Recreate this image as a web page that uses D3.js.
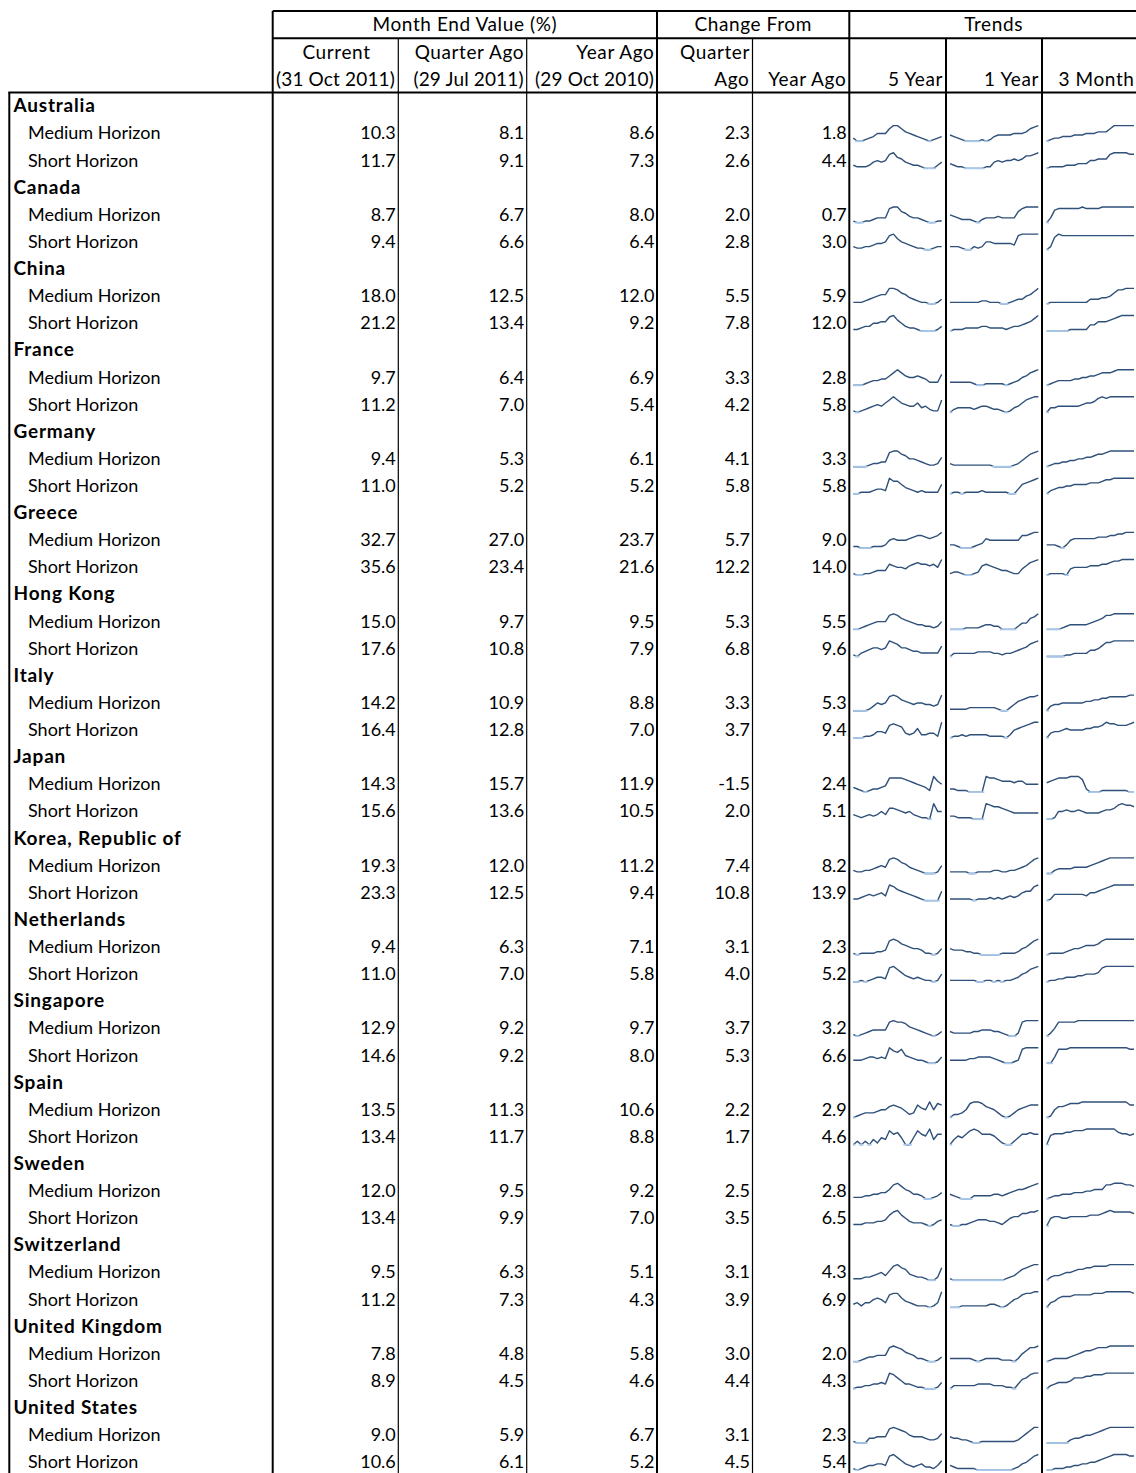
<!DOCTYPE html>
<html><head><meta charset="utf-8">
<script src="https://cdn.jsdelivr.net/npm/d3@7"></script>
<style>
body{margin:0;background:#fff}
svg{display:block}
text{font-family:Lato,"Noto Sans",sans-serif;font-size:18px;fill:#000}
text.hdr{font-size:19px;letter-spacing:0.6px}
text.hdr.sub{letter-spacing:0.15px}
text.cty{font-size:19px;font-weight:bold;letter-spacing:0.8px}
</style>
</head><body>
<svg id="chart" width="1136" height="1473"></svg>
<script>
// ---------------- DATA ----------------
const countries = ["Australia","Canada","China","France","Germany","Greece","Hong Kong","Italy","Japan","Korea, Republic of","Netherlands","Singapore","Spain","Sweden","Switzerland","United Kingdom","United States"];
const horizons = ["Medium Horizon","Short Horizon"];

// values in row order: for each country Medium then Short
const current    = [10.3,11.7, 8.7,9.4, 18.0,21.2, 9.7,11.2, 9.4,11.0, 32.7,35.6, 15.0,17.6, 14.2,16.4, 14.3,15.6, 19.3,23.3, 9.4,11.0, 12.9,14.6, 13.5,13.4, 12.0,13.4, 9.5,11.2, 7.8,8.9, 9.0,10.6];
const quarterAgo = [8.1,9.1, 6.7,6.6, 12.5,13.4, 6.4,7.0, 5.3,5.2, 27.0,23.4, 9.7,10.8, 10.9,12.8, 15.7,13.6, 12.0,12.5, 6.3,7.0, 9.2,9.2, 11.3,11.7, 9.5,9.9, 6.3,7.3, 4.8,4.5, 5.9,6.1];
const yearAgo    = [8.6,7.3, 8.0,6.4, 12.0,9.2, 6.9,5.4, 6.1,5.2, 23.7,21.6, 9.5,7.9, 8.8,7.0, 11.9,10.5, 11.2,9.4, 7.1,5.8, 9.7,8.0, 10.6,8.8, 9.2,7.0, 5.1,4.3, 5.8,4.6, 6.7,5.2];
const chgQuarter = [2.3,2.6, 2.0,2.8, 5.5,7.8, 3.3,4.2, 4.1,5.8, 5.7,12.2, 5.3,6.8, 3.3,3.7, -1.5,2.0, 7.4,10.8, 3.1,4.0, 3.7,5.3, 2.2,1.7, 2.5,3.5, 3.1,3.9, 3.0,4.4, 3.1,4.5];
const chgYear    = [1.8,4.4, 0.7,3.0, 5.9,12.0, 2.8,5.8, 3.3,5.8, 9.0,14.0, 5.5,9.6, 5.3,9.4, 2.4,5.1, 8.2,13.9, 2.3,5.2, 3.2,6.6, 2.9,4.6, 2.8,6.5, 4.3,6.9, 2.0,4.3, 2.3,5.4];

// sparkline readings (relative level)
const trend5Y = [
 [2,0,0,1,2,3,5,5,5,8,10,10,8,6,5,4,3,2,1,0,1,2,3],
 [2,1,1,1,2,4,5,4,5,9,10,7,6,4,3,2,2,1,0,0,0,2,4],
 [1,0,0,1,1,2,3,3,3,9,10,10,7,6,4,3,3,2,1,0,0,1,1],
 [2,1,1,2,2,3,4,4,5,9,10,7,5,4,3,2,1,1,0,0,1,2,2],
 [1,1,1,2,3,4,5,6,6,10,10,9,7,6,4,3,2,1,1,0,0,1,3],
 [1,1,2,3,3,5,5,6,6,9,10,7,5,3,2,2,1,0,0,0,0,1,3],
 [0,0,0,1,2,3,3,4,4,6,8,10,8,6,5,5,6,5,4,2,2,2,7],
 [1,0,1,2,3,4,5,4,6,8,10,8,6,5,4,4,6,3,4,2,1,1,8],
 [0,0,0,0,1,2,2,3,3,9,10,10,8,7,5,5,4,3,2,1,1,2,6],
 [0,0,1,1,1,2,3,3,2,10,8,8,6,4,3,2,1,2,1,1,1,1,6],
 [1,1,0,0,0,1,1,1,2,5,6,5,5,5,6,7,8,8,7,6,7,8,10],
 [1,0,0,1,1,2,3,3,3,7,6,5,5,4,6,7,8,7,7,6,7,5,10],
 [0,0,1,2,3,4,5,5,5,9,10,9,7,6,5,4,3,3,2,2,1,2,5],
 [1,0,2,3,4,5,5,4,5,9,8,7,5,5,4,3,3,2,2,2,2,2,6],
 [0,0,0,0,1,3,5,4,5,9,10,9,7,6,5,4,5,5,4,4,3,4,10],
 [0,0,0,1,1,2,4,4,3,8,9,8,7,3,2,3,6,2,2,3,3,1,10],
 [3,2,1,0,1,2,2,3,4,9,9,9,9,8,7,6,5,4,3,1,10,7,5],
 [3,2,1,2,3,2,3,5,3,7,7,6,5,4,5,3,2,1,1,0,10,5,5],
 [2,1,1,2,2,3,4,5,4,9,10,9,7,6,4,3,2,1,0,0,0,1,5],
 [1,1,2,3,4,3,4,5,3,10,9,7,6,5,4,3,2,1,0,0,0,0,6],
 [1,0,1,1,1,1,2,2,3,9,10,9,7,6,5,4,4,3,1,1,0,1,4],
 [0,0,1,0,1,2,3,3,2,9,10,8,6,4,3,2,3,2,1,1,0,1,5],
 [1,0,1,2,3,4,4,4,4,9,10,9,9,8,6,5,4,3,2,1,0,1,3],
 [2,2,2,3,4,4,3,4,3,10,8,7,9,5,4,3,2,2,1,0,0,1,4],
 [0,1,2,3,3,3,4,5,5,7,8,7,6,4,2,3,8,6,5,10,5,9,8],
 [1,3,1,3,1,4,2,5,4,9,7,8,5,1,1,5,9,7,6,10,4,7,7],
 [1,1,1,2,2,3,3,4,4,6,9,10,8,6,5,3,3,2,0,0,1,2,4],
 [1,1,1,2,2,2,3,3,4,7,9,10,7,5,3,2,2,2,1,0,1,3,4],
 [1,1,1,2,2,3,4,5,3,6,9,10,8,7,4,3,2,2,1,0,0,2,8],
 [2,3,1,3,3,5,6,5,3,8,9,9,6,4,3,2,1,1,1,0,1,3,10],
 [0,0,1,2,3,3,4,4,4,9,10,9,8,6,5,4,2,2,1,0,0,1,3],
 [0,1,1,2,2,3,3,4,3,10,9,7,5,3,3,2,1,1,0,0,0,1,4],
 [1,0,0,0,3,3,4,4,4,9,10,9,8,7,5,4,4,4,3,2,2,3,6],
 [1,0,1,2,3,3,4,4,3,9,10,8,6,4,3,2,3,4,2,2,1,3,6]
];
const trend1Y = [
 [4,3,2,1,0,0,0,0,1,0,1,3,4,4,4,4,5,5,5,6,8,9,10],
 [3,2,1,1,0,0,0,0,0,1,1,4,5,4,5,5,6,5,6,8,8,9,10],
 [5,4,3,2,2,2,1,0,2,3,3,3,4,3,3,3,3,7,9,10,10,10,10],
 [2,2,2,1,0,0,2,1,2,5,5,4,4,4,4,4,3,9,10,10,10,10,10],
 [1,1,1,1,1,1,1,1,2,2,1,1,1,0,0,1,2,3,3,5,6,8,10],
 [0,1,1,1,2,2,2,2,3,3,2,2,2,2,1,2,3,3,4,5,6,8,10],
 [2,2,2,2,2,2,1,0,0,1,1,1,1,1,0,1,2,3,5,6,8,9,10],
 [0,2,3,3,3,3,2,3,4,4,3,2,2,1,0,1,3,4,6,8,9,10,10],
 [2,1,1,1,1,1,1,1,1,1,1,0,0,0,0,0,1,2,4,6,8,9,10],
 [0,1,1,0,1,1,1,1,2,1,1,1,1,1,1,0,0,3,6,7,8,9,10],
 [2,2,1,0,0,0,1,2,3,6,5,5,5,5,5,5,5,5,8,8,9,10,10],
 [1,2,2,1,0,0,1,2,6,7,6,5,4,3,3,2,1,1,4,6,8,9,10],
 [0,0,0,0,1,1,1,1,2,3,3,2,2,0,0,0,0,2,4,4,7,8,10],
 [0,2,2,2,2,2,2,3,3,3,3,2,2,1,2,2,3,4,5,6,8,9,10],
 [1,1,1,1,1,2,2,2,2,2,2,2,1,0,0,2,4,6,7,8,9,9,10],
 [0,1,1,2,1,2,2,2,2,2,1,1,1,1,0,2,5,6,7,8,9,10,10],
 [2,2,1,1,1,0,0,0,0,10,9,9,8,7,7,7,6,7,7,5,5,5,5],
 [2,2,1,1,1,1,0,0,0,10,9,8,8,7,6,5,4,4,4,4,4,4,4],
 [1,1,1,1,1,0,0,1,1,1,1,2,2,1,1,2,2,3,4,5,7,9,10],
 [1,1,1,1,1,1,0,1,1,1,2,1,2,1,2,3,2,3,5,6,6,9,10],
 [4,3,3,3,2,2,1,1,0,0,0,0,0,1,1,1,1,2,4,5,7,9,10],
 [1,1,1,1,1,1,1,0,0,1,1,0,1,0,1,1,2,3,5,6,8,9,10],
 [3,2,2,2,2,2,3,3,4,4,4,3,3,2,1,0,0,2,9,10,10,10,10],
 [2,2,2,2,2,3,3,4,4,4,4,3,2,1,0,0,1,2,9,10,10,10,10],
 [0,2,2,3,5,9,10,10,9,7,6,5,3,1,0,1,3,5,6,7,8,8,8],
 [1,4,6,5,7,9,10,9,7,7,7,6,4,2,1,1,3,5,7,7,8,7,7],
 [3,2,1,0,0,0,2,2,2,2,2,3,3,2,3,4,5,6,6,7,8,9,10],
 [1,0,0,1,1,2,3,4,4,4,3,3,2,1,3,5,6,6,8,8,9,9,10],
 [1,0,0,0,0,0,0,0,0,0,0,0,0,0,1,2,3,5,7,8,9,10,10],
 [0,0,0,1,1,1,1,1,1,1,2,2,1,0,1,3,5,6,8,9,9,10,10],
 [2,2,2,2,2,2,1,0,1,2,2,2,2,1,1,1,0,2,5,7,9,9,10],
 [0,2,2,2,2,2,2,3,3,3,3,2,2,2,1,1,0,3,6,7,9,10,10],
 [4,3,3,2,2,1,0,0,1,1,1,1,1,1,1,1,1,2,4,6,8,10,10],
 [3,2,1,1,1,1,1,0,0,0,0,0,0,0,0,0,1,2,4,5,7,9,10]
];
const trend3M = [
 [0,1,2,2,3,3,3,4,4,4,5,5,5,6,6,6,8,10,10,10,10,10,10],
 [0,1,1,1,1,2,2,2,3,3,3,5,5,6,6,6,9,10,10,10,10,9,9],
 [0,3,8,9,9,9,9,9,9,10,9,9,9,9,10,10,10,10,10,10,10,10,10],
 [0,2,8,10,9,9,9,9,9,9,9,9,9,9,9,9,9,9,9,9,9,9,9],
 [0,1,1,1,1,1,1,1,1,1,1,3,3,3,4,4,5,7,9,9,10,10,10],
 [0,0,0,0,0,0,1,1,1,1,1,4,4,6,6,6,7,8,9,10,10,10,10],
 [0,1,2,3,3,3,3,4,4,5,5,6,6,7,8,8,8,9,10,10,10,10,10],
 [0,3,3,4,4,4,4,4,4,5,6,6,7,9,10,9,10,10,10,10,10,10,10],
 [0,1,2,2,3,3,4,4,5,5,6,6,7,8,8,9,10,10,10,10,10,10,10],
 [0,2,3,4,4,5,5,6,6,6,6,7,7,7,8,9,9,10,10,10,10,10,10],
 [2,2,2,1,0,2,5,6,6,6,6,6,6,7,7,7,8,8,9,9,10,10,10],
 [0,1,1,1,1,0,4,5,5,5,5,6,6,6,7,7,8,9,9,10,10,10,10],
 [0,0,0,0,1,2,3,3,3,3,3,4,5,6,7,9,9,10,10,10,10,10,10],
 [0,0,0,0,0,1,1,2,2,2,2,4,4,5,7,9,9,10,10,10,10,10,10],
 [0,3,4,4,5,5,5,5,5,5,6,6,7,7,8,8,9,9,9,9,9,10,10],
 [0,3,4,4,5,6,5,5,5,5,6,6,7,7,8,10,9,9,8,8,8,9,10],
 [6,7,8,9,9,9,10,10,10,8,2,0,0,0,1,1,1,1,1,1,1,0,0],
 [0,0,1,5,5,6,5,5,6,5,4,4,4,4,5,6,6,7,9,10,9,9,8],
 [0,0,2,3,3,3,3,4,4,4,4,5,6,7,8,9,10,10,10,10,10,10,10],
 [0,1,4,4,4,4,4,4,4,4,3,5,5,6,7,8,9,10,10,10,10,10,10],
 [0,1,1,1,1,2,3,4,4,5,6,6,6,7,9,10,10,10,10,10,10,10,10],
 [0,1,1,2,2,3,3,3,4,4,5,5,5,6,9,10,10,10,10,10,10,10,10],
 [0,2,5,9,9,9,9,9,10,10,10,10,10,10,10,10,10,10,10,10,10,10,10],
 [0,0,4,9,9,9,10,10,10,10,10,10,10,10,10,10,10,10,10,10,10,9,9],
 [0,1,5,7,7,8,9,9,9,10,10,10,10,10,10,10,10,10,10,10,10,8,8],
 [0,6,7,7,7,8,8,9,9,9,10,10,10,10,10,10,10,10,8,7,7,6,7],
 [0,1,2,2,3,3,3,4,4,4,5,5,6,6,6,9,9,10,10,10,9,9,8],
 [0,5,6,6,5,5,6,6,6,6,6,7,7,7,8,9,10,9,9,9,9,9,8],
 [0,2,3,3,4,5,5,6,7,7,8,8,9,9,9,9,10,10,10,10,10,10,10],
 [0,3,4,6,7,7,7,8,8,8,8,8,9,9,9,10,10,10,10,10,10,10,9],
 [0,1,2,2,2,2,3,4,5,6,7,7,8,9,9,9,10,10,10,10,10,10,10],
 [0,2,3,4,4,4,5,7,7,7,8,8,9,9,9,10,10,10,10,10,10,10,10],
 [0,0,0,0,0,0,2,3,3,4,5,5,6,7,8,9,10,10,10,10,10,10,10],
 [0,0,1,1,1,2,2,3,3,4,4,5,5,6,7,8,9,10,10,10,10,9,9]
];

const groupHeaders = ["Month End Value (%)","Change From","Trends"];
const colHeads1 = ["Current","Quarter Ago","Year Ago","Quarter","","","",""];
const colHeads2 = ["(31 Oct 2011)","(29 Jul 2011)","(29 Oct 2010)","Ago","Year Ago","5 Year","1 Year","3 Month"];

// ---------------- LAYOUT ----------------
const svg = d3.select("#chart");
const W = 1136, H = 1473;
const colEdges = [272.7, 398.3, 526.7, 657, 752.5, 849.3, 946, 1042, 1138];
const thickCol = [true, false, false, true, false, true, true, true, false];
const groupSpan = [[0,3],[3,5],[5,8]];
const nRows = countries.length * 3;
const rowH = 27.12;
const hdrH = 27.17;
const y = d3.scaleLinear().domain([0, nRows]).range([92.5, 92.5 + nRows*rowH]);
const yh = d3.scaleLinear().domain([-3, 0]).range([92.5 - 3*hdrH, 92.5]);
const fmt = v => d3.format(".1f")(v).replace("\u2212", "-");

const gLines = svg.append("g");
gLines.append("line").attr("x1", colEdges[0]).attr("x2", W).attr("y1", yh(-3)).attr("y2", yh(-3)).attr("stroke","#000").attr("stroke-width",2);
gLines.append("line").attr("x1", colEdges[0]).attr("x2", W).attr("y1", yh(-2)).attr("y2", yh(-2)).attr("stroke","#000").attr("stroke-width",2);
gLines.append("line").attr("x1", 8.3).attr("x2", W).attr("y1", y(0)).attr("y2", y(0)).attr("stroke","#000").attr("stroke-width",2);
gLines.append("line").attr("x1", 9.3).attr("x2", 9.3).attr("y1", y(0)).attr("y2", H).attr("stroke","#000").attr("stroke-width",2);
colEdges.forEach((x, i) => {
  if (i === colEdges.length - 1) return;
  const fromTop = (i === 0 || i === 3 || i === 5);
  gLines.append("line").attr("x1", x).attr("x2", x)
    .attr("y1", fromTop ? yh(-3) : yh(-2)).attr("y2", H)
    .attr("stroke", "#000").attr("stroke-width", thickCol[i] ? 2 : 1.2);
});

// ---------------- HEADER ----------------
const gH = svg.append("g");
const capMid = 6.8;
groupHeaders.forEach((t, i) => {
  const [a, b] = groupSpan[i];
  gH.append("text").attr("class","hdr").attr("x", (colEdges[a] + colEdges[b]) / 2).attr("y", yh(-2.5) + capMid)
    .attr("text-anchor", "middle").text(t);
});
colHeads1.forEach((t, i) => {
  if (!t) return;
  const centered = i === 0;
  gH.append("text").attr("class","hdr")
    .attr("x", centered ? (colEdges[0] + colEdges[1]) / 2 + 1 : colEdges[i + 1] - 2.5)
    .attr("y", yh(-1.5) + capMid)
    .attr("text-anchor", centered ? "middle" : "end").text(t);
});
colHeads2.forEach((t, i) => {
  const centered = i === 0;
  gH.append("text").attr("class", i < 3 ? "hdr sub" : "hdr")
    .attr("x", centered ? (colEdges[0] + colEdges[1]) / 2 : colEdges[i + 1] - (i === 7 ? 3.5 : 3))
    .attr("y", yh(-0.5) + capMid)
    .attr("text-anchor", centered ? "middle" : "end").text(t);
});

// ---------------- BODY ----------------
const gB = svg.append("g");
const numCols = [current, quarterAgo, yearAgo, chgQuarter, chgYear];
const trends = [trend5Y, trend1Y, trend3M];
const sparkPad = [[853.3, 941.7], [950, 1038.3], [1046.7, 1134]];
const baseOff = 7.3;

countries.forEach((c, ci) => {
  const hr = ci * 3;
  gB.append("text").attr("class","cty").attr("x", 13.5).attr("y", y(hr + 1) - baseOff).text(c);
  horizons.forEach((h, hi) => {
    const r = hr + 1 + hi;
    const k = ci * 2 + hi;
    const base = y(r + 1) - baseOff;
    gB.append("text").attr("x", 28).attr("y", base).text(h);
    numCols.forEach((arr, j) => {
      gB.append("text").attr("x", colEdges[j + 1] - 2.5).attr("y", base)
        .attr("text-anchor", "end").text(fmt(arr[k]));
    });
    trends.forEach((tr, j) => {
      const vals = tr[k];
      const sx = d3.scaleLinear().domain([0, vals.length - 1]).range(sparkPad[j]);
      const ext = d3.extent(vals);
      const sy = d3.scaleLinear().domain(ext).range([y(r + 1) - 5.5, y(r) + 6]);
      const line = d3.line().x((d, i) => sx(i)).y(d => sy(d));
      gB.append("path").attr("d", line(vals)).attr("fill", "none")
        .attr("stroke", "#2f5079").attr("stroke-width", 1.4)
        .attr("stroke-linejoin", "round");
      vals.forEach((v, i) => {
        if (v !== ext[0]) return;
        gB.append("line")
          .attr("x1", Math.max(sparkPad[j][0], sx(i) - 2.2))
          .attr("x2", Math.min(sparkPad[j][1], sx(i) + 2.2))
          .attr("y1", sy(v)).attr("y2", sy(v))
          .attr("stroke", "#a9c8ea").attr("stroke-width", 1.8);
      });
    });
  });
});
</script>
</body></html>
